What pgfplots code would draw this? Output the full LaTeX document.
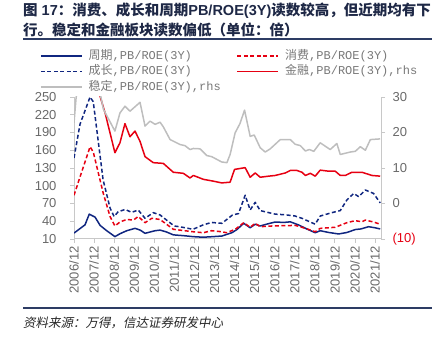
\documentclass[border=0pt]{standalone}
\usepackage{pgfplots}
\pgfplotsset{compat=1.18}
\usepackage{fontspec}
\setmainfont{Liberation Sans}
\newfontfamily\cjk{Noto Sans CJK SC}
\newfontfamily\cjkit{Noto Sans CJK SC}[FakeSlant=0.2]
\newfontfamily\mono{Liberation Mono}
\definecolor{navy}{RGB}{16,38,128}
\definecolor{cred}{RGB}{230,0,18}
\definecolor{cgray}{RGB}{190,190,190}
\definecolor{axg}{RGB}{200,200,200}
\definecolor{tickc}{RGB}{105,105,105}
\definecolor{legc}{RGB}{120,120,120}
\definecolor{titlec}{RGB}{30,40,70}
\definecolor{rulec}{RGB}{45,60,100}
\pgfplotsset{
  common/.style={
    at={(74pt,103pt)}, anchor=south west, scale only axis,
    width=307pt, height=142pt, xmin=0, xmax=15.3,
    /pgf/number format/assume math mode=true,
    tick style={axg, line width=0.8pt}, axis line style={axg, line width=1pt},
    tick align=outside, major tick length=4pt,
    every axis plot/.append style={line width=1.5pt, line join=round},
    ticklabel style={font=\fontsize{13}{13}\selectfont, text=tickc},
  }
}
\begin{document}
\begin{tikzpicture}
\path[use as bounding box] (0pt,0pt) rectangle (444pt,342pt);
\node[anchor=west, inner sep=0, text=titlec, font=\fontsize{14.5}{14.5}\selectfont\bfseries] at (23pt,331pt)
  {{\cjk 图} 17{\cjk ：消费、成长和周期}PB/ROE(3Y){\cjk 读数较高，但近期均有下}};
\node[anchor=west, inner sep=0, text=titlec, font=\fontsize{14.5}{14.5}\selectfont\bfseries] at (23pt,312pt)
  {{\cjk 行。稳定和金融板块读数偏低（单位：倍）}};
\draw[rulec, line width=1.8pt] (23pt,303pt) -- (432pt,303pt);
\draw[rulec, line width=1.5pt] (23pt,34pt) -- (432pt,34pt);
\node[anchor=west, inner sep=0, text=black!85, font=\fontsize{12.5}{12.5}\selectfont] at (23pt,19pt)
  {\cjkit 资料来源：万得，信达证券研发中心};

\begin{axis}[common,
  ymin=10, ymax=250,
  axis y line*=left, axis x line*=bottom,
  xtick={0,...,15},
  xticklabels={2006/12,2007/12,2008/12,2009/12,2010/12,2011/12,2012/12,2013/12,2014/12,2015/12,2016/12,2017/12,2018/12,2019/12,2020/12,2021/12},
  xticklabel style={rotate=90, anchor=east},
  ytick={10,40,...,250},
  yticklabel style={xshift=-10pt},
]
% 周期
\addplot[navy] coordinates {(0,20) (0.55,34) (0.76,52) (1.05,47) (1.3,33) (1.63,24) (2.04,14) (2.3,19) (2.63,24) (3.04,28) (3.3,25) (3.54,19.6) (4.04,24) (4.29,25) (4.6,22) (4.95,17) (5.5,15.5) (5.93,14) (6.43,13) (6.93,14) (7.37,15) (7.87,20.6) (8.12,26) (8.46,36.5) (8.78,29) (9.03,35) (9.28,32) (9.7,36) (10.03,38.7) (10.45,38) (10.78,39) (11.2,33.7) (11.6,27) (12.02,20.6) (12.27,24) (12.7,21) (13.19,18.5) (13.6,21) (14.02,26) (14.3,27) (14.68,30.8) (15.0,29) (15.26,27)};
% 消费
\addplot[cred, dash pattern=on 4pt off 2.5pt] coordinates {(0,84) (0.8,166) (0.96,157) (1.46,87) (1.8,47.7) (2.04,32) (2.3,39) (2.63,43) (2.96,42) (3.2,48) (3.54,37.6) (3.88,45) (4.29,43) (4.95,26.4) (5.93,22.3) (6.44,20.6) (6.86,24) (7.36,22.3) (7.6,20.6) (8.04,26.4) (8.46,37.6) (8.78,29.8) (9.03,36.5) (9.28,30.8) (9.87,32) (11.03,33) (11.53,28) (12.02,22.3) (12.27,28) (13.02,29.8) (13.6,37.6) (14.02,41) (14.35,39) (14.52,42) (14.93,38.7) (15.26,35)};
% 成长
\addplot[navy, dash pattern=on 4pt off 2.5pt] coordinates {(0,147) (0.3,204) (0.8,250) (0.96,242) (1.45,110) (1.8,62) (2.0,48) (2.2,56) (2.55,60) (2.87,55) (3.2,59) (3.54,45) (3.95,54.5) (4.29,50.6) (4.8,37) (5.0,32) (5.3,30.5) (5.93,26.4) (6.43,33.7) (6.85,38) (7.37,36.5) (7.9,50.6) (8.2,53) (8.53,84) (8.78,59) (9.03,72) (9.28,58) (10.03,52) (10.5,51) (11.0,49) (11.36,45) (12.02,35) (12.27,48.8) (12.85,54.5) (13.27,58) (13.6,76) (13.94,87) (14.19,81.5) (14.52,92.8) (14.93,87) (15.26,71)};
\end{axis}

\begin{axis}[common,
  ymin=-10, ymax=30,
  axis y line*=right, axis x line=none,
  ytick={-10,0,10,20,30},
  yticklabels={{\textcolor{cred}{(10)}},0,10,20,30},
  yticklabel style={xshift=4pt},
  legend columns=2,
  legend cell align=left,
  legend image code/.code={\draw[#1] (0pt,0pt) -- (41pt,0pt);},
  legend style={at={(axis description cs:0,1)}, anchor=north west,
    xshift=-34pt, yshift=48pt, draw=none, fill=none, inner sep=0pt,
    row sep=1.5pt,
    nodes={inner sep=1pt, text height=9pt, text depth=3pt, text=legc,
      font=\fontsize{12}{12}\selectfont\mono},
    /tikz/every odd column/.append style={column sep=5pt},
    /tikz/every even column/.append style={column sep=15pt}},
]
\addlegendimage{navy, line width=1.5pt}
\addlegendentry{{\cjk 周期},PB/ROE(3Y)}
\addlegendimage{cred, line width=1.5pt, dash pattern=on 4pt off 2.5pt}
\addlegendentry{{\cjk 消费},PB/ROE(3Y)}
\addlegendimage{navy, line width=1.5pt, dash pattern=on 4pt off 2.5pt}
\addlegendentry{{\cjk 成长},PB/ROE(3Y)}
% 金融
\addplot[cred] coordinates {(0.9,42) (1.3,30.2) (1.55,25.5) (2.04,14.3) (2.29,17.1) (2.54,22.5) (2.79,18.8) (3.04,20.4) (3.29,17.5) (3.54,13.2) (3.95,11.5) (4.45,11.3) (4.95,8.8) (5.45,8.5) (5.78,7.2) (5.95,7.9) (6.45,6.8) (6.94,6.3) (7.36,5.8) (7.78,6) (8.0,9.6) (8.53,10.1) (8.78,7.4) (9.03,8.6) (9.28,7.4) (9.7,7.7) (10.03,7.9) (10.53,8.6) (10.78,9.3) (11.11,9.3) (11.36,8.8) (11.53,7.9) (11.78,8.5) (12.02,7.7) (12.27,9.4) (12.69,9.1) (13.02,9.1) (13.27,7.9) (13.52,7.9) (13.85,8.8) (14.35,8.8) (14.85,7.9) (15.26,7.7)};
\addlegendentry{{\cjk 金融},PB/ROE(3Y),rhs}
% 稳定
\addplot[cgray] coordinates {(0,22.7) (0.1,29.5) (0.2,34) (1.0,40) (1.3,31) (1.47,26.5) (2.04,20.4) (2.29,25.5) (2.54,27.4) (2.79,26) (3.29,28.5) (3.54,21.8) (3.79,23.2) (4.04,22.3) (4.29,22.9) (4.45,21.6) (4.79,18) (5.29,16.6) (5.53,16.3) (5.78,15.2) (5.95,15.5) (6.28,15.4) (6.62,13.5) (6.86,13.2) (7.36,11.7) (7.62,11.5) (7.78,13.8) (8.03,19.9) (8.27,22.5) (8.5,26.3) (8.78,18.9) (8.98,19.3) (9.28,15.7) (9.53,14.5) (9.78,15.4) (10.28,18) (10.78,18) (11.02,16.7) (11.28,16.3) (11.53,14.8) (11.73,15.2) (11.95,14.7) (12.27,17.1) (12.77,15.2) (13.1,16.9) (13.27,13.8) (13.77,14.5) (14.02,14.7) (14.27,16) (14.52,15) (14.77,18) (15.26,18.2)};
\addlegendentry{{\cjk 稳定},PB/ROE(3Y),rhs}
\end{axis}
\end{tikzpicture}
\end{document}
